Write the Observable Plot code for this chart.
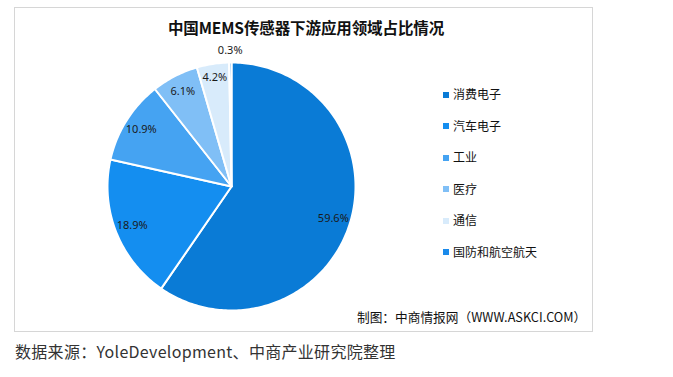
<!DOCTYPE html>
<html><head><meta charset="utf-8">
<script src="https://cdn.jsdelivr.net/npm/d3@7"></script>
<script src="https://cdn.jsdelivr.net/npm/@observablehq/plot@0.6"></script>
<style>
body{margin:0;background:#fff;font-family:"Noto Sans CJK SC","Noto Sans",sans-serif;}
#wrap{position:relative;width:673px;height:377px;overflow:hidden;background:#fff}
#frame{position:absolute;left:14px;top:7px;width:579px;height:325px;border:1px solid #d6d6d6;box-sizing:border-box}
#chart{position:absolute;left:0;top:0}
#title{position:absolute;left:0;width:612px;top:17px;text-align:center;font-size:15.5px;font-weight:bold;color:#111;line-height:20px;letter-spacing:-0.1px}
#legend{position:absolute;left:443px;top:85px}
.li{position:absolute;left:0;white-space:nowrap;font-size:12px;color:#111;line-height:18px}
.li span.sw{display:inline-block;width:6px;height:6px;margin-right:4px;vertical-align:middle;position:relative;top:-1px}
#footer{position:absolute;left:357px;top:308px;font-size:12.7px;color:#111;white-space:nowrap;line-height:18px}
#caption{position:absolute;left:15px;top:340px;font-size:16px;color:#333;white-space:nowrap;line-height:22px;letter-spacing:0.3px}
</style></head>
<body>
<div id="wrap">
  <div id="frame"></div>
  <div id="chart"></div>
  <div id="title"></div>
  <div id="legend"></div>
  <div id="footer"></div>
  <div id="caption"></div>
</div>
<script>
const titleText = "中国MEMS传感器下游应用领域占比情况";
const categories = ["消费电子","汽车电子","工业","医疗","通信","国防和航空航天"];
const shares = [59.6, 18.9, 10.9, 6.1, 4.2, 0.3];
const colors = ["#0a7bd6","#148ef0","#45a3f2","#80bff6","#d8ebfb","#1a8aeb"];
const footerText = "制图：中商情报网（WWW.ASKCI.COM）";
const captionText = "数据来源：YoleDevelopment、中商产业研究院整理";

const total = d3.sum(shares);
const pts = [];
const labels = [];
let acc = 0;
categories.forEach((c, i) => {
  const a0 = acc / total * 2 * Math.PI;
  acc += shares[i];
  const a1 = acc / total * 2 * Math.PI;
  pts.push({cat: c, x: 0, y: 0});
  const n = Math.max(2, Math.ceil((a1 - a0) / (Math.PI / 180)));
  for (let k = 0; k <= n; k++) {
    const a = a0 + (a1 - a0) * k / n;
    pts.push({cat: c, x: Math.sin(a), y: Math.cos(a)});
  }
  pts.push({cat: c, x: 0, y: 0});
  const am = (a0 + a1) / 2;
  const r = shares[i] < 1 ? 1.1 : (shares[i] < 5 ? 0.89 : 0.86);
  labels.push({x: r * Math.sin(am), y: r * Math.cos(am), t: shares[i].toFixed(1) + "%"});
});

const W = 673, H = 340;
const cx = 231, cy = 186, R = 124;
const chart = Plot.plot({
  width: W, height: H,
  marginLeft: cx - R, marginRight: W - (cx + R),
  marginTop: cy - R, marginBottom: H - (cy + R),
  x: {domain: [-1, 1], axis: null},
  y: {domain: [-1, 1], axis: null},
  color: {domain: categories, range: colors},
  style: {background: "transparent", overflow: "visible"},
  marks: [
    Plot.line(pts, {x: "x", y: "y", z: "cat", fill: "cat", stroke: "white", strokeWidth: 2, strokeLinejoin: "round", curve: "linear"}),
    Plot.text(labels, {x: "x", y: "y", text: "t", fontSize: 11, fill: "#1a1a1a", fontFamily: "'Noto Sans', sans-serif"})
  ]
});
document.getElementById("chart").appendChild(chart);

document.getElementById("title").textContent = titleText;
const leg = document.getElementById("legend");
categories.forEach((c, i) => {
  const d = document.createElement("div");
  d.className = "li";
  d.style.top = (i * 31.5) + "px";
  const sw = document.createElement("span");
  sw.className = "sw";
  sw.style.background = colors[i];
  d.appendChild(sw);
  d.appendChild(document.createTextNode(c));
  leg.appendChild(d);
});
document.getElementById("footer").textContent = footerText;
document.getElementById("caption").textContent = captionText;
</script>
</body></html>
